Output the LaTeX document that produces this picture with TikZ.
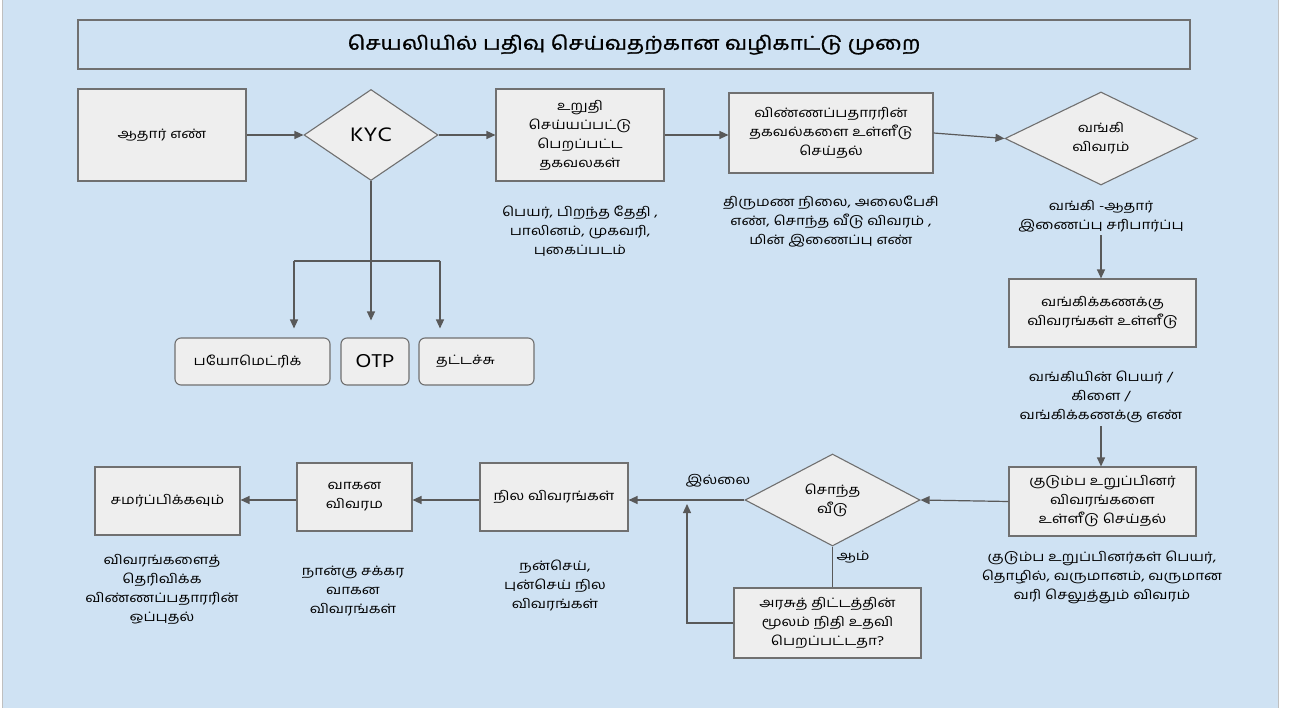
\documentclass[tikz,border=0pt]{standalone}
\usepackage{fontspec}
\setmainfont{Hind Madurai}[Script=Tamil,FakeStretch=1.18]
\newfontfamily\titlefont{Hind Madurai}[Script=Tamil,FakeStretch=1.18,FakeBold=1.2]
\usetikzlibrary{shapes.geometric,arrows.meta}
\definecolor{bgblue}{HTML}{CFE2F3}
\definecolor{boxgrey}{HTML}{EEEEEE}
\definecolor{linegrey}{HTML}{707070}
\definecolor{arrowgrey}{HTML}{595959}

\begin{document}
\begin{tikzpicture}[x=1pt,y=-1pt,
  font=\fontsize{13}{19}\selectfont,
  stepbox/.style={draw=linegrey,fill=boxgrey,line width=1.1pt,align=center,inner sep=2pt},
  choice/.style={diamond,aspect=2,draw=linegrey,fill=boxgrey,line width=1.1pt,align=center,inner sep=0pt},
  optbox/.style={stepbox,rounded corners=6pt},
  note/.style={align=center},
  flow/.style={draw=arrowgrey,line width=1.2pt,-{Triangle[length=9pt,width=8pt]}},
  link/.style={draw=arrowgrey,line width=1.2pt}]
\useasboundingbox (0,0) rectangle (1289,708);
\fill [white] (0,0) rectangle (1289,708);
\fill [bgblue] (3,0) rectangle (1278,708);
\draw [gray!50,line width=1pt] (2,0) -- (2,708) (1278.5,0) -- (1278.5,708);

\node [draw=linegrey,fill=bgblue,line width=1.1pt,minimum width=1112,minimum height=49,
  font=\titlefont\fontsize{19}{21}\selectfont] at (634,44.5) (title)
  {செயலியில் பதிவு செய்வதற்கான வழிகாட்டு முறை};

% first row
\node [stepbox,minimum width=168,minimum height=92] at (162,135) (aadhaar) {ஆதார் எண்};
\node [choice,minimum width=134,minimum height=91,font=\fontsize{20}{22}\selectfont] at (371,135) (kyc) {KYC};
\node [stepbox,minimum width=168,minimum height=92] at (580,135) (verified)
  {உறுதி\\செய்யப்பட்டு\\பெறப்பட்ட\\தகவலகள்};
\node [stepbox,minimum width=204,minimum height=80] at (831,133) (applicant)
  {விண்ணப்பதாரரின்\\தகவல்களை உள்ளீடு\\செய்தல்};
\node [choice,minimum width=192,minimum height=93] at (1101,138.5) (bank) {வங்கி\\விவரம்};

\node [note] at (580,231) (verifiednote) {பெயர், பிறந்த தேதி ,\\பாலினம், முகவரி,\\புகைப்படம்};
\node [note] at (831,222) (applicantnote)
  {திருமண நிலை, அலைபேசி\\எண், சொந்த வீடு விவரம்  ,\\மின் இணைப்பு எண்};
\node [note] at (1101,216) (banknote) {வங்கி  -ஆதார்\\இணைப்பு சரிபார்ப்பு};

% kyc options
\node [optbox,minimum width=155,minimum height=47] at (252.5,361.5) (biometric) {பயோமெட்ரிக்\hspace{10pt}};
\node [optbox,minimum width=68,minimum height=47,font=\fontsize{19}{20}\selectfont] at (375,361.5) (otp) {OTP};
\node [optbox,minimum width=115,minimum height=47] at (476.5,361.5) (typing) {தட்டச்சு\hspace{22pt}};
\coordinate (forkl) at (294,261);
\coordinate (forkr) at (440,261);

% right column
\node [stepbox,minimum width=187,minimum height=68] at (1102.5,313) (bankacct)
  {வங்கிக்கணக்கு\\விவரங்கள் உள்ளீடு};
\node [note] at (1101,397) (bankacctnote) {வங்கியின் பெயர் /\\கிளை /\\வங்கிக்கணக்கு  எண்};
\node [stepbox,minimum width=187,minimum height=69] at (1102.5,501.5) (family)
  {குடும்ப உறுப்பினர்\\விவரங்களை\\உள்ளீடு செய்தல்};
\node [note] at (1102,577) (familynote)
  {குடும்ப உறுப்பினர்கள் பெயர்,\\தொழில், வருமானம், வருமான\\வரி செலுத்தும் விவரம்};

% bottom row
\node [choice,minimum width=175,minimum height=92] at (832.5,500) (house) {சொந்த\\வீடு};
\node [stepbox,minimum width=187,minimum height=70] at (827.5,623) (scheme)
  {அரசுத் திட்டத்தின்\\மூலம் நிதி உதவி\\பெறப்பட்டதா?};
\node [stepbox,minimum width=148,minimum height=68] at (554,497) (land) {நில விவரங்கள்};
\node [stepbox,minimum width=115,minimum height=68] at (354.5,497) (vehicle) {வாகன\\விவரம};
\node [stepbox,minimum width=145,minimum height=68] at (167.5,501) (submit) {சமர்ப்பிக்கவும்};

\node [note] at (555,585) (landnote) {நன்செய்,\\புன்செய் நில\\விவரங்கள்};
\node [note] at (353,591) (vehiclenote) {நான்கு சக்கர\\வாகன\\விவரங்கள்};
\node [note] at (162,589) (submitnote) {விவரங்களைத்\\தெரிவிக்க\\விண்ணப்பதாரரின்\\ஒப்புதல்};
\node at (718,481) (nolabel) {இல்லை};
\node at (853,557) (yeslabel) {ஆம்};
\coordinate (merge) at (687,500);

\begin{scope}[every path/.style={flow}]
  \path (aadhaar.east) -- (kyc.west);
  \path (kyc.east) -- (verified.west);
  \path (verified.east) -- (verified.east -| applicant.west);
  \path (applicant.east) -- (bank.west);
  \path (banknote.south) -- (banknote.south |- bankacct.north);
  \path (bankacctnote.south) -- (bankacctnote.south |- family.north);
  \path (family.west) -- (house.east);
  \path (house.west) -- (house.west -| land.east);
  \path (house.west -| land.west) -- (house.west -| vehicle.east);
  \path (house.west -| vehicle.west) -- (house.west -| submit.east);
  \path (scheme.west) -| ([yshift=-4pt]merge);
  \path [shorten >=17pt] (kyc.south) -- (kyc.south |- otp.north);
  \path [shorten >=9pt] (forkl) -- (forkl |- biometric.north);
  \path [shorten >=9pt] (forkr) -- (forkr |- typing.north);
\end{scope}
\draw [link] (forkl) -- (forkr);
\draw [link] (house.south) -- (house.south |- scheme.north);
\end{tikzpicture}
\end{document}
